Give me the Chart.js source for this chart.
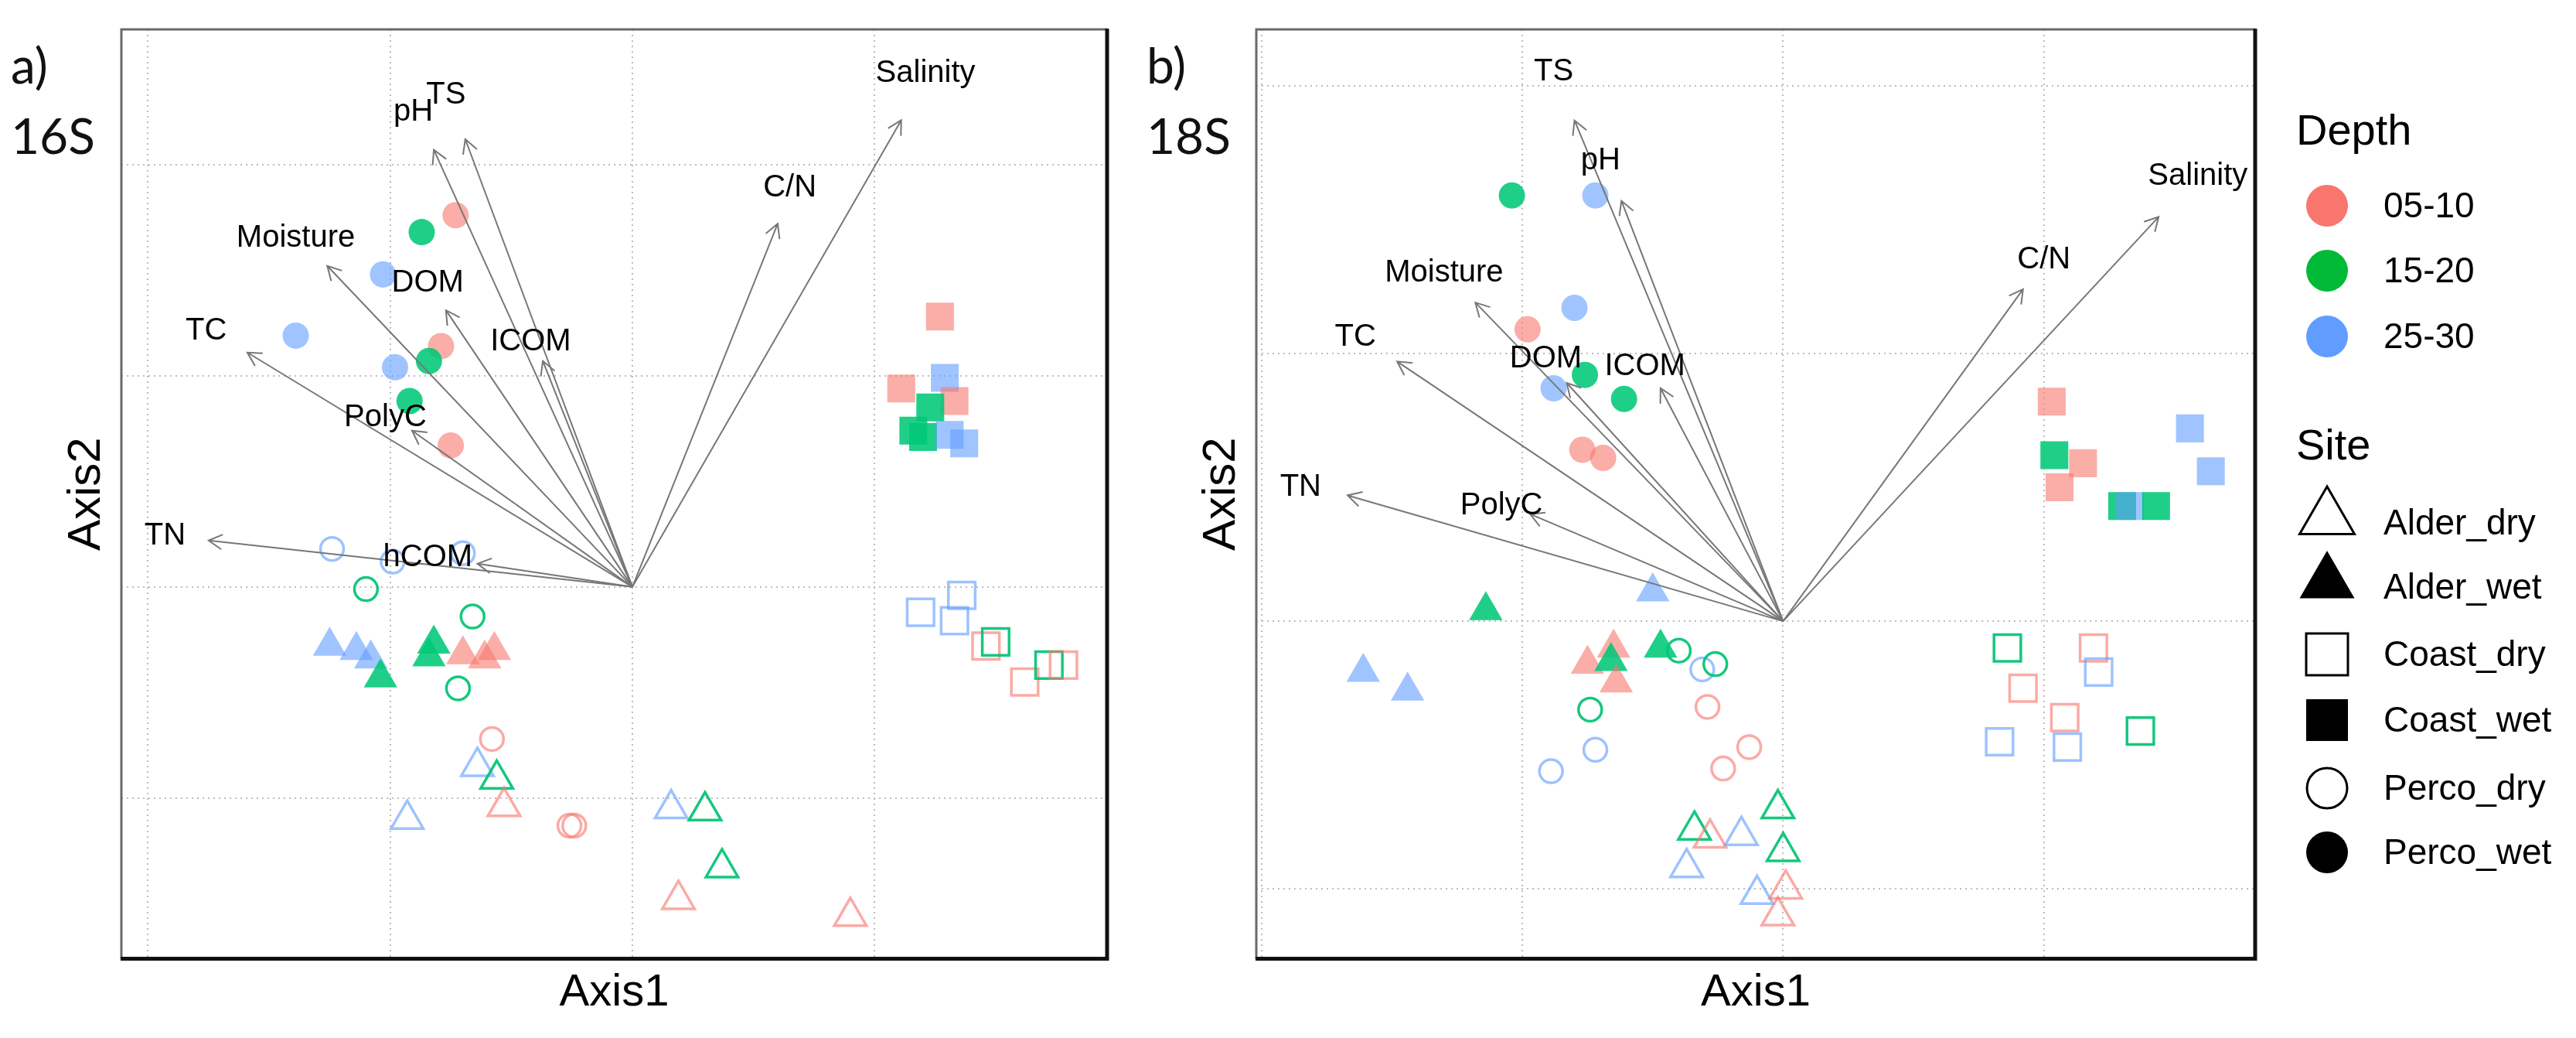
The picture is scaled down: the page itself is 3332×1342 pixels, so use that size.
<!DOCTYPE html>
<html>
<head>
<meta charset="utf-8">
<script src="https://cdn.jsdelivr.net/npm/chart.js@4.4.1/dist/chart.umd.min.js"></script>
<style>
  html, body { margin: 0; padding: 0; background: #fff; }
  #wrap { position: relative; width: 3332px; height: 1342px; overflow: hidden; }
  canvas { position: absolute; top: 0; }
</style>
</head>
<body>
<div id="wrap">
  <canvas id="chart16S" width="1460" height="1342" style="left:0"></canvas>
  <canvas id="chart18S" width="1872" height="1342" style="left:1460px"></canvas>
</div>
<script>
// --- categories ---
const depths = ['05-10', '15-20', '25-30'];
const sites = ['Alder_dry', 'Alder_wet', 'Coast_dry', 'Coast_wet', 'Perco_dry', 'Perco_wet'];

// --- grid lines (axis units) ---
const gridX16 = [-2, -1, 0, 1];
const gridY16 = [-1, 0, 1, 2];
const gridX18 = [-2, -1, 0, 1];
const gridY18 = [-1, 0, 1, 2];

// --- 16S samples: [Axis1, Axis2, depth index] ---
const s16AlderDry = [[-0.64,-0.85,2],[-0.56,-0.91,1],[-0.53,-1.04,0],[-0.93,-1.10,2],[0.16,-1.05,2],[0.30,-1.06,1],[0.37,-1.33,1],[0.19,-1.48,0],[0.90,-1.56,0]];
const s16AlderWet = [[-1.25,-0.28,2],[-1.14,-0.30,2],[-1.08,-0.34,2],[-1.04,-0.43,1],[-0.82,-0.27,1],[-0.84,-0.33,1],[-0.70,-0.32,0],[-0.57,-0.30,0],[-0.61,-0.34,0]];
const s16CoastDry = [[1.19,-0.12,2],[1.36,-0.04,2],[1.33,-0.16,2],[1.46,-0.28,0],[1.50,-0.26,1],[1.62,-0.45,0],[1.72,-0.37,1],[1.78,-0.37,0]];
const s16CoastWet = [[1.27,1.28,0],[1.11,0.94,0],[1.29,0.99,2],[1.33,0.88,0],[1.23,0.85,1],[1.16,0.74,1],[1.20,0.71,1],[1.31,0.72,2],[1.37,0.68,2]];
const s16PercoDry = [[-1.24,0.18,2],[-0.99,0.12,2],[-0.70,0.16,2],[-1.10,-0.01,1],[-0.66,-0.14,1],[-0.72,-0.48,1],[-0.58,-0.72,0],[-0.26,-1.13,0],[-0.24,-1.13,0]];
const s16PercoWet = [[-0.73,1.76,0],[-0.87,1.68,1],[-1.03,1.48,2],[-1.39,1.19,2],[-0.79,1.14,0],[-0.84,1.07,1],[-0.98,1.04,2],[-0.92,0.88,1],[-0.75,0.67,0]];

// --- 16S environmental vectors ---
const env16 = ['TS', 'pH', 'Moisture', 'DOM', 'TC', 'ICOM', 'PolyC', 'TN', 'hCOM', 'C/N', 'Salinity'];
const env16X = [-0.69, -0.82, -1.26, -0.77, -1.59, -0.37, -0.91, -1.75, -0.64, 0.60, 1.11];
const env16Y = [2.12, 2.07, 1.52, 1.31, 1.11, 1.07, 0.74, 0.22, 0.11, 1.72, 2.21];
const lab16X = [-0.77, -0.905, -1.39, -0.845, -1.76, -0.42, -1.02, -1.93, -0.845, 0.65, 1.21];
const lab16Y = [2.33, 2.25, 1.65, 1.44, 1.21, 1.16, 0.80, 0.24, 0.14, 1.89, 2.43];

// --- 18S samples ---
const s18AlderDry = [[-0.02,-0.70,1],[-0.34,-0.78,1],[-0.28,-0.81,0],[-0.16,-0.80,2],[0.00,-0.86,1],[-0.37,-0.92,2],[-0.10,-1.02,2],[0.01,-1.00,0],[-0.02,-1.10,0]];
const s18AlderWet = [[-0.50,0.11,2],[-1.14,0.04,1],[-1.61,-0.19,2],[-1.44,-0.26,2],[-0.75,-0.16,0],[-0.65,-0.10,0],[-0.66,-0.15,1],[-0.64,-0.23,0],[-0.47,-0.10,1]];
const s18CoastDry = [[0.86,-0.10,1],[1.19,-0.10,0],[1.21,-0.19,2],[0.92,-0.25,0],[1.08,-0.36,0],[1.37,-0.41,1],[0.83,-0.45,2],[1.09,-0.47,2]];
const s18CoastWet = [[1.03,0.82,0],[1.56,0.72,2],[1.04,0.62,1],[1.15,0.59,0],[1.06,0.50,0],[1.64,0.56,2],[1.30,0.43,1],[1.33,0.43,2],[1.43,0.43,1]];
const s18PercoDry = [[-0.40,-0.11,1],[-0.31,-0.18,2],[-0.26,-0.16,1],[-0.29,-0.32,0],[-0.74,-0.33,1],[-0.72,-0.48,2],[-0.89,-0.56,2],[-0.13,-0.47,0],[-0.23,-0.55,0]];
const s18PercoWet = [[-1.04,1.59,1],[-0.72,1.59,2],[-0.80,1.17,2],[-0.98,1.09,0],[-0.76,0.92,1],[-0.88,0.87,2],[-0.61,0.83,1],[-0.77,0.64,0],[-0.69,0.61,0]];

// --- 18S environmental vectors ---
const env18 = ['TS', 'pH', 'Moisture', 'TC', 'DOM', 'ICOM', 'TN', 'PolyC', 'C/N', 'Salinity'];
const env18X = [-0.80, -0.62, -1.18, -1.48, -0.83, -0.47, -1.67, -0.97, 0.92, 1.44];
const env18Y = [1.87, 1.57, 1.19, 0.97, 0.89, 0.87, 0.47, 0.40, 1.24, 1.51];
const lab18X = [-0.88, -0.70, -1.30, -1.64, -0.91, -0.53, -1.85, -1.08, 1.00, 1.59];
const lab18Y = [2.05, 1.72, 1.30, 1.06, 0.98, 0.95, 0.50, 0.43, 1.35, 1.66];

// --- styles ---
const FONT = '"Liberation Sans", Arial, Helvetica, sans-serif';
const TAG_FONT = 'Lato, "Open Sans", sans-serif';
const depthColors = ['#F8766D', '#00BA38', '#619CFF'];
const pointFill = ['rgba(248,118,109,0.6)', 'rgba(0,200,120,0.88)', 'rgba(97,156,255,0.6)'];
const pointLine = ['rgba(248,118,109,0.62)', 'rgba(0,195,115,0.92)', 'rgba(97,156,255,0.62)'];
const siteShape = ['triangle', 'triangle', 'rect', 'rect', 'circle', 'circle'];
const siteFilled = [false, true, false, true, false, true];
const siteRadius = [24, 25, 24.5, 25.5, 15, 17];

// simple marker drawing for the legend
function drawMarker(ctx, shape, filled, x, y, r, color) {
    ctx.beginPath();
    if (shape === 'triangle') {
        for (let k = 0; k < 3; k++) {
            const a = k * 2 * Math.PI / 3;
            const px = x + Math.sin(a) * r, py = y - Math.cos(a) * r;
            k === 0 ? ctx.moveTo(px, py) : ctx.lineTo(px, py);
        }
        ctx.closePath();
    } else if (shape === 'rect') {
        ctx.rect(x - r, y - r, 2 * r, 2 * r);
    } else {
        ctx.arc(x, y, r, 0, Math.PI * 2);
    }
    if (filled) { ctx.fillStyle = color; ctx.fill(); }
    else { ctx.strokeStyle = color; ctx.lineWidth = 3; ctx.stroke(); }
}

const framePlugin = {
    id: 'frame',
    afterDraw(chart) {
        const { ctx, chartArea: a } = chart;
        ctx.save();
        ctx.strokeStyle = '#6a6a6a'; ctx.lineWidth = 3;
        ctx.beginPath(); ctx.moveTo(a.left, a.bottom); ctx.lineTo(a.left, a.top); ctx.lineTo(a.right, a.top); ctx.stroke();
        ctx.strokeStyle = '#111'; ctx.lineWidth = 5;
        ctx.beginPath(); ctx.moveTo(a.left - 1, a.bottom); ctx.lineTo(a.right, a.bottom); ctx.lineTo(a.right, a.top - 1); ctx.stroke();
        ctx.restore();
    }
};

// arrows + labels of the fitted environmental variables
const biplotPlugin = {
    id: 'biplot',
    afterDatasetsDraw(chart, args, opts) {
        const { ctx, scales: { x, y } } = chart;
        const x0 = x.getPixelForValue(0), y0 = y.getPixelForValue(0);
        ctx.save();
        ctx.strokeStyle = '#777'; ctx.lineWidth = 2;
        opts.names.forEach((name, i) => {
            const x1 = x.getPixelForValue(opts.tipX[i]), y1 = y.getPixelForValue(opts.tipY[i]);
            const ang = Math.atan2(y1 - y0, x1 - x0);
            ctx.beginPath();
            ctx.moveTo(x0, y0); ctx.lineTo(x1, y1);
            ctx.moveTo(x1 - 20 * Math.cos(ang - 0.5), y1 - 20 * Math.sin(ang - 0.5));
            ctx.lineTo(x1, y1);
            ctx.lineTo(x1 - 20 * Math.cos(ang + 0.5), y1 - 20 * Math.sin(ang + 0.5));
            ctx.stroke();
        });
        ctx.fillStyle = '#000';
        ctx.font = '40px ' + FONT;
        ctx.textAlign = 'center'; ctx.textBaseline = 'middle';
        opts.names.forEach((name, i) => {
            ctx.fillText(name, x.getPixelForValue(opts.labelX[i]), y.getPixelForValue(opts.labelY[i]));
        });
        ctx.restore();
    }
};

// "a) / 16S" style panel tags
const tagPlugin = {
    id: 'tag',
    afterDraw(chart, args, opts) {
        const ctx = chart.ctx;
        ctx.save();
        ctx.fillStyle = '#111';
        ctx.font = '64px ' + TAG_FONT;
        ctx.textAlign = 'left'; ctx.textBaseline = 'alphabetic';
        opts.lines.forEach((t, i) => ctx.fillText(t, opts.x, opts.baselines[i]));
        ctx.restore();
    }
};

// Depth / Site legend (drawn on the right-hand chart)
const legendPlugin = {
    id: 'depthSite',
    afterDraw(chart, args, opts) {
        const ctx = chart.ctx;
        const ox = opts.offsetX;
        ctx.save();
        ctx.fillStyle = '#000';
        ctx.textAlign = 'left'; ctx.textBaseline = 'alphabetic';
        ctx.font = '56px ' + FONT;
        ctx.fillText('Depth', 2970 - ox, 187);
        ctx.fillText('Site', 2970 - ox, 594);
        ctx.font = '46px ' + FONT;
        ctx.textBaseline = 'middle';
        const depthY = [266, 350, 435];
        depths.forEach((d, i) => {
            drawMarker(ctx, 'circle', true, 3010 - ox, depthY[i], 27, depthColors[i]);
            ctx.fillStyle = '#000';
            ctx.fillText(d, 3083 - ox, depthY[i] + 2);
        });
        const siteY = [676, 759, 846, 931, 1019, 1102];
        const legR = [41, 41, 27, 27, 26, 27];
        const legDy = [-6, -6, 0, 0, 0, 0];
        sites.forEach((s, i) => {
            drawMarker(ctx, siteShape[i], siteFilled[i], 3010 - ox, siteY[i] + legDy[i], legR[i], '#000');
            ctx.fillStyle = '#000';
            ctx.fillText(s, 3083 - ox, siteY[i] + 2);
        });
        ctx.restore();
    }
};

function makeScatter(id, cfg) {
    const plugins = [biplotPlugin, framePlugin, tagPlugin];
    if (cfg.legend) plugins.push(legendPlugin);
    return new Chart(document.getElementById(id), {
        type: 'scatter',
        data: {
            datasets: sites.map((site, i) => ({
                label: site,
                data: cfg.points[i].map(p => ({ x: p[0], y: p[1], d: p[2] })),
                pointStyle: siteShape[i],
                pointRadius: siteRadius[i],
                pointBackgroundColor: c => (siteFilled[i] && c.raw) ? pointFill[c.raw.d] : 'rgba(0,0,0,0)',
                pointBorderColor: c => (!siteFilled[i] && c.raw) ? pointLine[c.raw.d] : 'rgba(0,0,0,0)',
                pointBorderWidth: siteFilled[i] ? 0 : 3.5
            }))
        },
        options: {
            responsive: false,
            animation: false,
            devicePixelRatio: 1,
            events: [],
            layout: { padding: cfg.padding },
            plugins: {
                legend: { display: false },
                tooltip: { enabled: false },
                biplot: { names: cfg.env, tipX: cfg.envX, tipY: cfg.envY, labelX: cfg.labX, labelY: cfg.labY },
                tag: { lines: cfg.tag, x: cfg.tagX, baselines: [108, 199] },
                depthSite: { offsetX: cfg.offsetX }
            },
            scales: {
                x: {
                    type: 'linear', min: cfg.xMin, max: cfg.xMax,
                    afterBuildTicks: ax => { ax.ticks = cfg.gridX.map(v => ({ value: v })); },
                    ticks: { display: false },
                    grid: { color: '#bcbcbc', lineWidth: 2, drawTicks: false },
                    border: { display: false, dash: [2, 5] },
                    title: { display: true, text: 'Axis1', color: '#000', font: { family: FONT, size: 58 }, padding: { top: 10, bottom: 0 } }
                },
                y: {
                    type: 'linear', min: cfg.yMin, max: cfg.yMax,
                    afterBuildTicks: ax => { ax.ticks = cfg.gridY.map(v => ({ value: v })); },
                    ticks: { display: false },
                    grid: { color: '#bcbcbc', lineWidth: 2, drawTicks: false },
                    border: { display: false, dash: [2, 5] },
                    title: { display: true, text: 'Axis2', color: '#000', font: { family: FONT, size: 60 }, padding: { top: 0, bottom: 9 } }
                }
            }
        },
        plugins: plugins
    });
}

makeScatter('chart16S', {
    points: [s16AlderDry, s16AlderWet, s16CoastDry, s16CoastWet, s16PercoDry, s16PercoWet],
    env: env16, envX: env16X, envY: env16Y, labX: lab16X, labY: lab16Y,
    xMin: -2.11, xMax: 1.96, yMin: -1.76, yMax: 2.64,
    gridX: gridX16, gridY: gridY16,
    padding: { left: 76, top: 38, right: 13, bottom: 23 },
    tag: ['a)', '16S'], tagX: 14, offsetX: 0, legend: false
});

makeScatter('chart18S', {
    points: [s18AlderDry, s18AlderWet, s18CoastDry, s18CoastWet, s18PercoDry, s18PercoWet],
    env: env18, envX: env18X, envY: env18Y, labX: lab18X, labY: lab18Y,
    xMin: -2.02, xMax: 1.81, yMin: -1.26, yMax: 2.21,
    gridX: gridX18, gridY: gridY18,
    padding: { left: 84, top: 38, right: 415, bottom: 23 },
    tag: ['b)', '18S'], tagX: 23, offsetX: 1460, legend: true
});
</script>
</body>
</html>
